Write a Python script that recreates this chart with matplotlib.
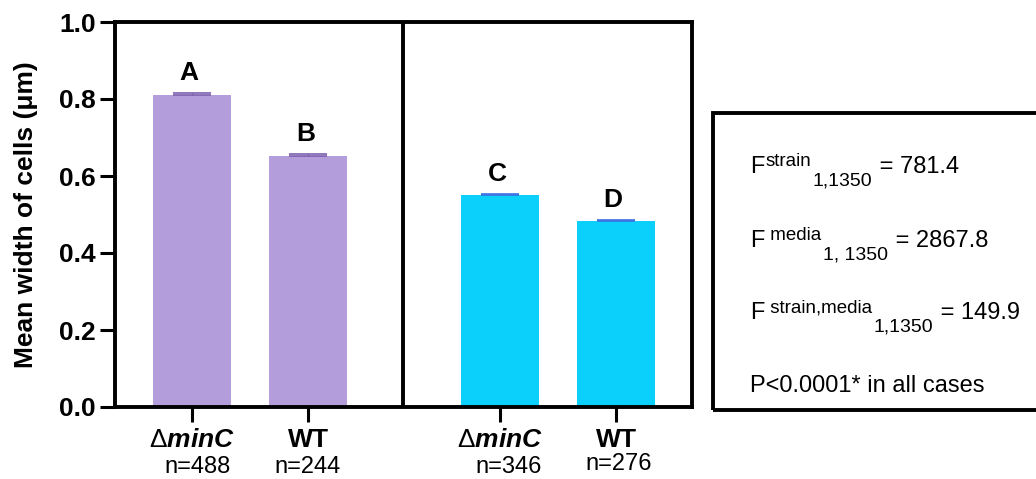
import matplotlib
matplotlib.use('Agg')
import matplotlib.pyplot as plt
from matplotlib.patches import Rectangle

plt.rcParams['font.family'] = 'Liberation Sans'
plt.rcParams['mathtext.fontset'] = 'custom'
plt.rcParams['mathtext.rm'] = 'Liberation Sans'
plt.rcParams['mathtext.it'] = 'Liberation Sans:italic'
plt.rcParams['mathtext.bf'] = 'Liberation Sans:bold'
plt.rcParams['mathtext.bfit'] = 'Liberation Sans:italic:bold'

# data
strain_labels = [r'$\mathrm{\Delta}\mathbfit{minC}$', r'$\mathbf{WT}$',
                 r'$\mathrm{\Delta}\mathbfit{minC}$', r'$\mathbf{WT}$']
n_cells = [488, 244, 346, 276]
mean_width = [0.810, 0.652, 0.550, 0.483]
sem_width = [0.005, 0.004, 0.003, 0.003]
group_letters = ['A', 'B', 'C', 'D']
yticks = [0.0, 0.2, 0.4, 0.6, 0.8, 1.0]

# F statistics box: (text, kind) with kind = base / sup / sub
stats_lines = [
    [('F', 'base'), ('strain', 'sup'), ('1,1350', 'sub'), (' = 781.4', 'base')],
    [('F', 'base'), (' media', 'sup'), ('1, 1350', 'sub'), (' = 2867.8', 'base')],
    [('F', 'base'), (' strain,media', 'sup'), ('1,1350', 'sub'), (' = 149.9', 'base')],
    [('P<0.0001* in all cases', 'base')],
]

# layout / style
x_pos = [0, 1, 2.655, 3.655]
divider_x = 1.819
bar_colors = ['#b39ddb', '#b39ddb', '#0bd0fb', '#0bd0fb']
err_colors = ['#7b5fae', '#7b5fae', '#3b6fe4', '#3b6fe4']
n_dx = [4, 0, 6, 2]
n_dy = [0, 0, 0, 2]

W, H = 1036, 479
fig = plt.figure(figsize=(W / 100, H / 100), dpi=100)
ax = fig.add_axes([115 / W, 1 - 407 / H, (692 - 115) / W, (407 - 22) / H])

ax.bar(x_pos, mean_width, width=0.67, color=bar_colors, zorder=2)
for x, m, s, c in zip(x_pos, mean_width, sem_width, err_colors):
    ax.errorbar(x, m, yerr=[[0], [s]], fmt='none', ecolor=c, elinewidth=1.0,
                capsize=14, capthick=1.2, zorder=3)

for x, m, s, letter in zip(x_pos, mean_width, sem_width, group_letters):
    ax.annotate(letter, (x, m + s), xytext=(-2, 6), textcoords='offset points',
                ha='center', va='bottom', fontsize=19, fontweight='bold')

ax.axvline(divider_x, color='black', lw=2.8, zorder=4)

ax.set_xlim(-0.664, 4.31)
ax.set_ylim(0, 1.0)
ax.set_yticks(yticks)
ax.set_yticklabels([f'{t:.1f}' for t in yticks], fontsize=19, fontweight='bold')
ax.set_xticks(x_pos)
ax.set_xticklabels([])
ax.tick_params(axis='both', length=11, width=2.2, pad=3)
for sp in ax.spines.values():
    sp.set_linewidth(2.8)
ax.set_ylabel('Mean width of cells (μm)', fontsize=19, fontweight='bold', labelpad=15)

for x, lab, n, dx, dy in zip(x_pos, strain_labels, n_cells, n_dx, n_dy):
    ax.annotate(lab, (x, 0), xycoords=('data', 'axes fraction'), xytext=(0, -29),
                textcoords='offset points', ha='center', va='baseline', fontsize=19)
    ax.annotate(f'n={n}', (x, 0), xycoords=('data', 'axes fraction'),
                xytext=(dx, -47.5 + dy), textcoords='offset points',
                ha='center', va='baseline', fontsize=17)

# statistics box
fig.patches.append(Rectangle((713 / W, 1 - 410 / H), 0.4, (410 - 113) / H,
                             transform=fig.transFigure, fill=False,
                             edgecolor='black', lw=2.8))

renderer = fig.canvas.get_renderer()
sizes = {'base': 17, 'sup': 13.5, 'sub': 14}
rises = {'base': 0, 'sup': 5, 'sub': -9}
baselines = [173, 247, 319, 392]
for line, base_y in zip(stats_lines, baselines):
    x_px = 750
    for txt, kind in line:
        y_px = base_y - rises[kind] * 100 / 72
        t = fig.text(x_px / W, 1 - y_px / H, txt, fontsize=sizes[kind],
                     ha='left', va='baseline')
        x_px = t.get_window_extent(renderer).x1 + 1

fig.savefig('out.png', dpi=100)
